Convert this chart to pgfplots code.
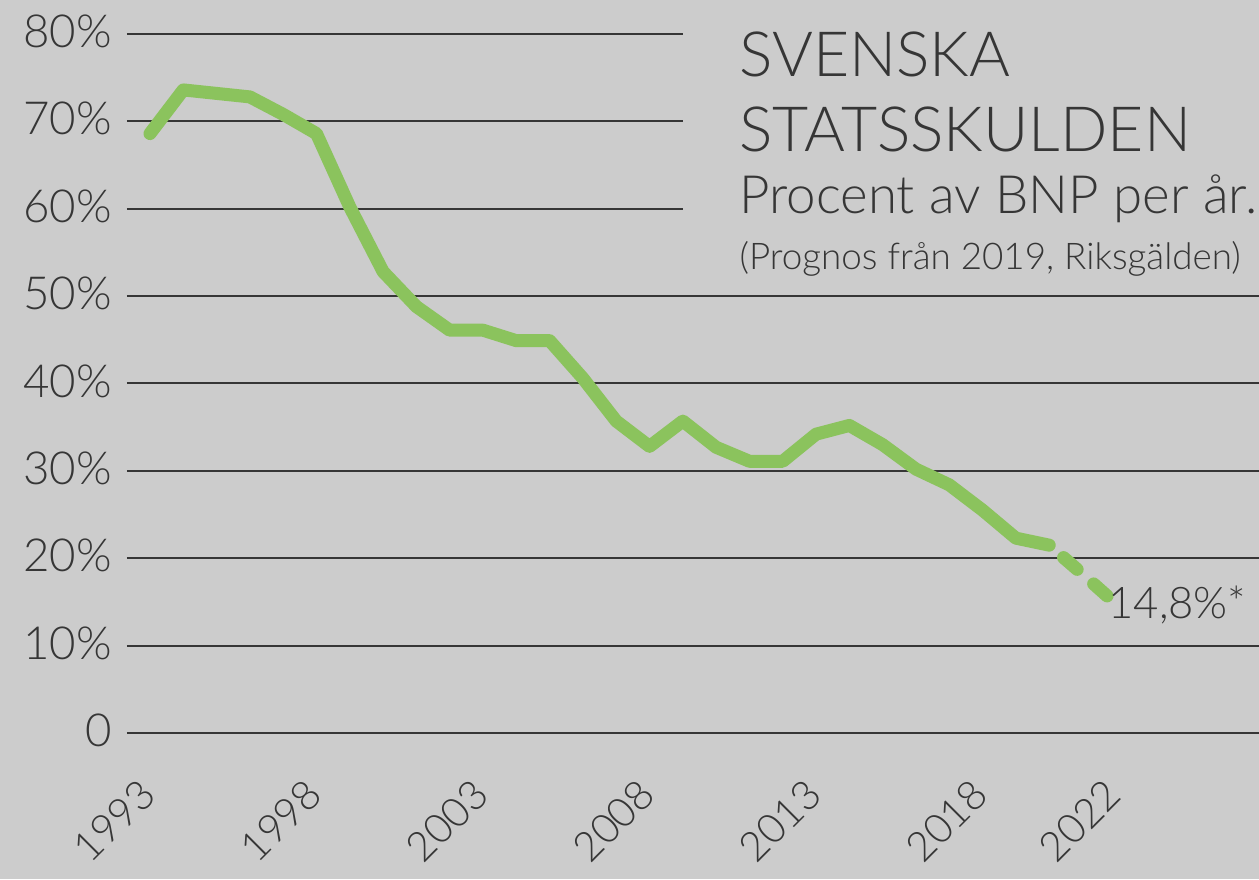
\documentclass[border=0pt]{standalone}
\usepackage{pgfplots}
\pgfplotsset{compat=1.18}
\usepackage{fontspec}
\setmainfont{Lato}[UprightFont=* Light]
\usetikzlibrary{backgrounds}

\definecolor{bg}{HTML}{CCCCCC}
\definecolor{ink}{HTML}{363636}
\definecolor{skuld}{HTML}{8BC35D}

\begin{document}
\begin{tikzpicture}
\begin{axis}[
    scale only axis,
    width=566pt, height=349.5pt,
    xmin=1992.31, xmax=2026.3,
    ymin=0, ymax=80,
    clip=false,
    axis line style={draw=none},
    tick style={draw=none},
    xtick={1993,1998,2003,2008,2013,2018,2022},
    xticklabels={1993,1998,2003,2008,2013,2018,2022},
    ytick={0,10,20,30,40,50,60,70,80},
    yticklabels={0,10\%,20\%,30\%,40\%,50\%,60\%,70\%,80\%},
    ticklabel style={text=ink, inner sep=0pt},
    yticklabel style={font=\fontsize{22.8}{26}\selectfont, anchor=east, xshift=-7.5pt, yshift=1.3pt},
    xticklabel style={font=\fontsize{20.5}{24}\selectfont, yshift=-27pt, xshift=-1pt, rotate=45, anchor=east},
]
% stodlinjer
\pgfplotsinvokeforeach{0,10,20,30,40,50}{
  \draw[ink, line width=1pt] (axis cs:1992.31,#1) -- (axis cs:2026.3,#1);
}
\pgfplotsinvokeforeach{60,70,80}{
  \draw[ink, line width=1pt] (axis cs:1992.31,#1) -- (axis cs:2009.0,#1);
}

\addplot[skuld, line width=6.5pt, line cap=round, line join=round] coordinates {
  (1993,68.6) (1994,73.6) (1995,73.2) (1996,72.8) (1997,70.8)
  (1998,68.6) (1999,60.2) (2000,52.8) (2001,48.8) (2002,46.1)
  (2003,46.1) (2004,44.9) (2005,44.9) (2006,40.6) (2007,35.7)
  (2008,32.8) (2009,35.7) (2010,32.7) (2011,31.1) (2012,31.1)
  (2013,34.2) (2014,35.2) (2015,33.0) (2016,30.2) (2017,28.4)
  (2018,25.5) (2019,22.3) (2020,21.5)
};
% prognos
\addplot[skuld, line width=6.5pt, line cap=round, line join=round,
  dash pattern=on 9pt off 11pt, dash phase=10.5pt] coordinates {
  (2020,21.5) (2021,18.2) (2022,14.8)
};

\node[anchor=base west, inner sep=0pt, text=ink, font=\fontsize{21.8}{26}\selectfont]
  at (axis cs:2021.77,13.16) {14,8\%*};

\node[anchor=base west, inner sep=0pt, text=ink, font=\fontsize{31.2}{36}\selectfont]
  at (axis cs:2010.69,75.08) {SVENSKA};
\node[anchor=base west, inner sep=0pt, text=ink, font=\fontsize{31.2}{36}\selectfont]
  at (axis cs:2010.69,66.6) {STATSSKULDEN};
\node[anchor=base west, inner sep=0pt, text=ink, font=\fontsize{26.4}{30}\selectfont]
  at (axis cs:2010.69,59.4) {Procent av BNP per år.};
\node[anchor=base west, inner sep=0pt, text=ink, font=\fontsize{18.4}{22}\selectfont]
  at (axis cs:2010.69,53.1) {(Prognos från 2019, Riksgälden)};
\end{axis}
\pgfresetboundingbox
\path[use as bounding box] ([shift={(-63.5pt,-73pt)}]current axis.south west)
  rectangle ([shift={(0pt,17pt)}]current axis.north east);
\begin{pgfonlayer}{background}
  \fill[bg] ([shift={(-63.5pt,-73pt)}]current axis.south west)
    rectangle ([shift={(0pt,17pt)}]current axis.north east);
\end{pgfonlayer}
\end{tikzpicture}
\end{document}
